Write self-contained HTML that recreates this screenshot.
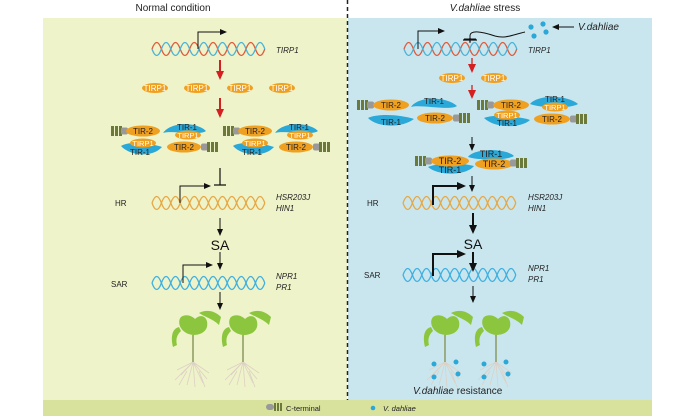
<!DOCTYPE html>
<html><head><meta charset="utf-8"><style>
html,body{margin:0;padding:0;background:#fff;}
svg{display:block;font-family:"Liberation Sans",Arial,sans-serif;}
</style></head><body>
<svg width="700" height="420" viewBox="0 0 700 420" xmlns="http://www.w3.org/2000/svg">
<defs>
<marker id="ak" markerWidth="8" markerHeight="8" refX="6" refY="4" orient="auto" markerUnits="userSpaceOnUse"><path d="M0,1 L7,4 L0,7 Z" fill="#111"/></marker>
<marker id="ar" markerWidth="10" markerHeight="10" refX="7" refY="5" orient="auto" markerUnits="userSpaceOnUse"><path d="M0,1 L9,5 L0,9 Z" fill="#d42020"/></marker>
<marker id="akb" markerWidth="10" markerHeight="10" refX="7" refY="5" orient="auto" markerUnits="userSpaceOnUse"><path d="M0,1 L9,5 L0,9 Z" fill="#111"/></marker>
<path id="hA" d="M0,0 q4.7,-13 9.4,0 t9.4,0 t9.4,0 t9.4,0 t9.4,0 t9.4,0 t9.4,0 t9.4,0 t9.4,0 t9.4,0 t9.4,0 t9.4,0"/>
<path id="hB" d="M0,0 q4.7,13 9.4,0 t9.4,0 t9.4,0 t9.4,0 t9.4,0 t9.4,0 t9.4,0 t9.4,0 t9.4,0 t9.4,0 t9.4,0 t9.4,0"/>
<g id="capL"><rect x="0" y="-5" width="3" height="10" fill="#6b7a3a"/><rect x="4" y="-5" width="3" height="10" fill="#6b7a3a"/><rect x="8" y="-5" width="3" height="10" fill="#6b7a3a"/><rect x="10" y="-3.5" width="7" height="7" rx="2" fill="#999"/></g>
<g id="capR"><rect x="-17" y="-3.5" width="7" height="7" rx="2" fill="#999"/><rect x="-11" y="-5" width="3" height="10" fill="#6b7a3a"/><rect x="-7" y="-5" width="3" height="10" fill="#6b7a3a"/><rect x="-3" y="-5" width="3" height="10" fill="#6b7a3a"/></g>
<g id="tirp"><ellipse cx="0" cy="0" rx="13" ry="5" fill="#f0a020"/><text x="0" y="3" font-size="8" fill="#fff" text-anchor="middle">TIRP1</text></g>
<g id="plant">
<g stroke="#ddd0c4" stroke-width="0.8" fill="none"><path d="M0,27 L-12,40 M0,27 L-16,35 M0,27 L-6,50 M0,27 L2,52 M0,27 L10,48 M0,27 L16,38 M0,27 L-18,45 M0,27 L14,44 M-6,36 L-14,50 M6,36 L12,52"/></g>
<path d="M0,0 L0,27" stroke="#8a9a60" stroke-width="1.5"/>
<path d="M0,0 C-14,-2 -16,-14 -12,-18 C-6,-22 0,-18 2,-16 C8,-22 16,-18 14,-8 C12,-2 6,0 0,0Z" fill="#8cc63e"/>
<path d="M-14,-8 C-22,-6 -22,4 -20,12 L-16,10 C-18,2 -14,-2 -12,-4Z" fill="#8cc63e"/>
<path d="M6,-22 C14,-26 22,-24 28,-18 L26,-10 C20,-16 12,-18 6,-22Z" fill="#8cc63e"/>
</g>
</defs>

<rect x="43" y="18" width="304" height="382" fill="#eef3c9"/>
<rect x="348" y="18" width="304" height="382" fill="#c9e6ef"/>
<rect x="43" y="400" width="609" height="16" fill="#d9e29c"/>
<line x1="347.5" y1="0" x2="347.5" y2="400" stroke="#222" stroke-width="1.5" stroke-dasharray="4,3"/>

<text x="173" y="11" font-size="10" text-anchor="middle" fill="#222">Normal condition</text>
<text x="485" y="11" font-size="10" text-anchor="middle" fill="#222"><tspan font-style="italic">V.dahliae</tspan> stress</text>

<!-- helices -->
<g fill="none" stroke-width="1.3">
<use href="#hA" x="152" y="49" stroke="#e05a3a"/><use href="#hB" x="152" y="49" stroke="#49b3d8"/>
<use href="#hA" x="152" y="203" stroke="#e6a845"/><use href="#hB" x="152" y="203" stroke="#e6a845"/>
<use href="#hA" x="152" y="283" stroke="#3fb0e0"/><use href="#hB" x="152" y="283" stroke="#3fb0e0"/>
<use href="#hA" x="404" y="49" stroke="#e05a3a"/><use href="#hB" x="404" y="49" stroke="#49b3d8"/>
<use href="#hA" x="403" y="203" stroke="#e6a845"/><use href="#hB" x="403" y="203" stroke="#e6a845"/>
<use href="#hA" x="403" y="275" stroke="#3fb0e0"/><use href="#hB" x="403" y="275" stroke="#3fb0e0"/>
</g>

<!-- LEFT -->
<g fill="none" stroke="#111" stroke-width="1">
<path d="M198,49 V32 H226" marker-end="url(#ak)"/>
<path d="M180,203 V186 H210" marker-end="url(#ak)"/>
<path d="M183,283 V265 H212" marker-end="url(#ak)"/>
<path d="M220,168 V185 M214,185 H226" stroke-width="1.2"/>
<path d="M220,218 V235" marker-end="url(#ak)"/>
<path d="M220,252 V269" marker-end="url(#ak)"/>
<path d="M220,292 V309" marker-end="url(#ak)"/>
</g>
<path d="M220,60 V78" stroke="#d42020" stroke-width="2" marker-end="url(#ar)"/>
<path d="M220,98 V116" stroke="#d42020" stroke-width="2" marker-end="url(#ar)"/>
<g font-style="italic" font-size="8" fill="#222">
<text x="276" y="53">TIRP1</text>
<text x="276" y="200">HSR203J</text><text x="276" y="211">HIN1</text>
<text x="276" y="279">NPR1</text><text x="276" y="290">PR1</text>
</g>
<text x="115" y="206" font-size="8" fill="#222">HR</text>
<text x="111" y="287" font-size="8" fill="#222">SAR</text>
<text x="220" y="250" font-size="14" text-anchor="middle" fill="#111">SA</text>
<use href="#tirp" x="155" y="88"/><use href="#tirp" x="197" y="88"/><use href="#tirp" x="240" y="88"/><use href="#tirp" x="282" y="88"/>

<g id="cplx">
<use href="#capL" x="111" y="131"/>
<ellipse cx="143" cy="131" rx="17" ry="5.5" fill="#f0a020"/><text x="143" y="134" font-size="8" text-anchor="middle" fill="#222">TIR-2</text>
<path d="M163,133 C170,122 196,121 206,131 C200,136 170,130 163,133Z" fill="#2aa8d8"/>
<text x="187" y="130" font-size="8" text-anchor="middle" fill="#222">TIR-1</text>
<ellipse cx="188" cy="135" rx="13" ry="4.5" fill="#f0a020"/><text x="188" y="138" font-size="7.5" fill="#fff" text-anchor="middle">TIRP1</text>
<path d="M121,146 C128,141 150,143 162,147 C152,158 130,156 121,146Z" fill="#2aa8d8"/>
<text x="140" y="155" font-size="8" text-anchor="middle" fill="#222">TIR-1</text>
<ellipse cx="143" cy="143" rx="13" ry="4.5" fill="#f0a020"/><text x="143" y="146" font-size="7.5" fill="#fff" text-anchor="middle">TIRP1</text>
<ellipse cx="184" cy="147" rx="17" ry="5.5" fill="#f0a020"/><text x="184" y="150" font-size="8" text-anchor="middle" fill="#222">TIR-2</text>
<use href="#capR" x="218" y="147"/>
</g>
<use href="#cplx" x="112" y="0"/>

<use href="#plant" x="193" y="335"/>
<use href="#plant" x="243" y="335"/>

<!-- RIGHT -->
<g fill="none" stroke="#111" stroke-width="1">
<path d="M418,49 V31 H444" marker-end="url(#ak)"/>
<path d="M470,43 V36 C470,30 480,31 495,36 C505,39 512,35 525,32 M464,39 H476"/>
<path d="M470,42 V38 M463,40 H477" stroke-width="1.3"/>
<path d="M574,27 H553" marker-end="url(#ak)"/>
<path d="M472,137 V150" marker-end="url(#ak)"/>
<path d="M472,176 V191" marker-end="url(#ak)"/>
<path d="M433,205 V186 H464" stroke-width="2" marker-end="url(#akb)"/>
<path d="M473,213 V232" stroke-width="2" marker-end="url(#akb)"/>
<path d="M433,276 V254 H464" stroke-width="2" marker-end="url(#akb)"/>
<path d="M473,252 V270" stroke-width="2" marker-end="url(#akb)"/>
<path d="M473,286 V302" marker-end="url(#ak)"/>
</g>
<g fill="#2aa8d8"><circle cx="531" cy="27" r="2.6"/><circle cx="543" cy="24" r="2.6"/><circle cx="534" cy="36" r="2.6"/><circle cx="546" cy="32" r="2.6"/></g>
<text x="578" y="30" font-size="10" font-style="italic" fill="#222">V.dahliae</text>
<path d="M472,58 V71" stroke="#d42020" stroke-width="1.3" marker-end="url(#ar)"/>
<path d="M472,85 V97" stroke="#d42020" stroke-width="1.3" marker-end="url(#ar)"/>
<use href="#tirp" x="452" y="78"/><use href="#tirp" x="494" y="78"/>
<g font-style="italic" font-size="8" fill="#222">
<text x="528" y="53">TIRP1</text>
<text x="528" y="200">HSR203J</text><text x="528" y="211">HIN1</text>
<text x="528" y="271">NPR1</text><text x="528" y="282">PR1</text>
</g>
<text x="367" y="206" font-size="8" fill="#222">HR</text>
<text x="364" y="278" font-size="8" fill="#222">SAR</text>
<text x="473" y="249" font-size="14" text-anchor="middle" fill="#111">SA</text>

<use href="#capL" x="357" y="105"/>
<ellipse cx="391" cy="105" rx="18" ry="5.5" fill="#f0a020"/><text x="391" y="108" font-size="8" text-anchor="middle" fill="#222">TIR-2</text>
<path d="M411,107 C418,96 446,96 457,106 C450,111 420,104 411,107Z" fill="#2aa8d8"/>
<text x="434" y="104" font-size="8" text-anchor="middle" fill="#222">TIR-1</text>
<path d="M368,118 C378,113 402,115 414,119 C402,128 378,128 368,118Z" fill="#2aa8d8"/>
<text x="391" y="125" font-size="8" text-anchor="middle" fill="#222">TIR-1</text>
<ellipse cx="435" cy="118" rx="18" ry="5.5" fill="#f0a020"/><text x="435" y="121" font-size="8" text-anchor="middle" fill="#222">TIR-2</text>
<use href="#capR" x="470" y="118"/>
<use href="#capL" x="477" y="105"/>
<ellipse cx="511" cy="105" rx="18" ry="5.5" fill="#f0a020"/><text x="511" y="108" font-size="8" text-anchor="middle" fill="#222">TIR-2</text>
<path d="M530,104 C538,94 568,95 578,104 C570,109 540,108 530,104Z" fill="#2aa8d8"/>
<text x="555" y="102" font-size="8" text-anchor="middle" fill="#222">TIR-1</text>
<ellipse cx="555" cy="107" rx="13" ry="4.5" fill="#f0a020"/><text x="555" y="110" font-size="7.5" fill="#fff" text-anchor="middle">TIRP1</text>
<path d="M484,118 C492,114 518,116 530,120 C520,129 494,128 484,118Z" fill="#2aa8d8"/>
<text x="507" y="126" font-size="8" text-anchor="middle" fill="#222">TIR-1</text>
<ellipse cx="507" cy="115" rx="13" ry="4.5" fill="#f0a020"/><text x="507" y="118" font-size="7.5" fill="#fff" text-anchor="middle">TIRP1</text>
<ellipse cx="552" cy="119" rx="18" ry="5.5" fill="#f0a020"/><text x="552" y="122" font-size="8" text-anchor="middle" fill="#222">TIR-2</text>
<use href="#capR" x="587" y="119"/>
<use href="#capL" x="415" y="161"/>
<path d="M468,157 C474,148 506,148 514,156 C506,161 476,160 468,157Z" fill="#2aa8d8"/>
<text x="491" y="157" font-size="9" text-anchor="middle" fill="#222">TIR-1</text>
<path d="M428,167 C440,162 462,163 474,166 C466,176 438,176 428,167Z" fill="#2aa8d8"/>
<text x="450" y="173" font-size="9" text-anchor="middle" fill="#222">TIR-1</text>
<ellipse cx="450" cy="161" rx="19" ry="5.5" fill="#f0a020"/><text x="450" y="164" font-size="9" text-anchor="middle" fill="#222">TIR-2</text>
<ellipse cx="494" cy="164" rx="19" ry="5.5" fill="#f0a020"/><text x="494" y="167" font-size="9" text-anchor="middle" fill="#222">TIR-2</text>
<use href="#capR" x="527" y="163"/>

<use href="#plant" x="445" y="335"/>
<use href="#plant" x="496" y="335"/>
<g fill="#2aa8d8"><circle cx="434" cy="364" r="2.5"/><circle cx="456" cy="362" r="2.5"/><circle cx="434" cy="377" r="2.5"/><circle cx="458" cy="374" r="2.5"/>
<circle cx="484" cy="364" r="2.5"/><circle cx="506" cy="362" r="2.5"/><circle cx="484" cy="377" r="2.5"/><circle cx="508" cy="374" r="2.5"/></g>
<text x="413" y="394" font-size="10" fill="#222"><tspan font-style="italic">V.dahliae</tspan>  resistance</text>

<rect x="266" y="404" width="8" height="6" rx="3" fill="#999"/>
<rect x="274" y="403" width="2" height="8" fill="#6b7a3a"/><rect x="277" y="403" width="2" height="8" fill="#6b7a3a"/><rect x="280" y="403" width="2" height="8" fill="#6b7a3a"/>
<text x="286" y="411" font-size="7.5" fill="#222">C-terminal</text>
<circle cx="373" cy="408" r="2.3" fill="#2aa8d8"/>
<text x="383" y="411" font-size="7.5" font-style="italic" fill="#222">V. dahliae</text>
</svg>
</body></html>
